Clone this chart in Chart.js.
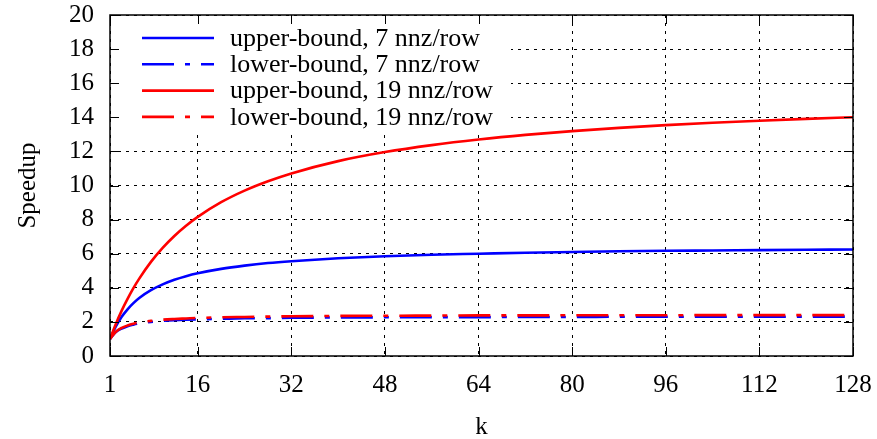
<!DOCTYPE html>
<html>
<head>
<meta charset="utf-8">
<script src="https://cdn.jsdelivr.net/npm/chart.js@4.4.1/dist/chart.umd.min.js"></script>
<style>
    html, body { margin: 0; padding: 0; background: #fff; }
    #wrap { width: 877px; height: 439px; }
</style>
</head>
<body>
<div id="wrap"><canvas id="speedupChart" width="877" height="439"></canvas></div>
<script>
// --- data ---
const kValues = [1, 2, 3, 4, 5, 6, 8, 10, 12, 14, 16, 20, 24, 28, 32, 40, 48, 56, 64, 72, 80, 88, 96, 104, 112, 120, 128];

const upper7 = [1.00, 1.73, 2.30, 2.74, 3.10, 3.40, 3.86, 4.20, 4.47, 4.68, 4.85, 5.11, 5.30, 5.45, 5.56, 5.73, 5.85, 5.94, 6.00, 6.06, 6.10, 6.14, 6.17, 6.19, 6.21, 6.23, 6.25];
const lower7 = [1.00, 1.40, 1.61, 1.75, 1.84, 1.91, 2.00, 2.06, 2.10, 2.13, 2.15, 2.18, 2.21, 2.22, 2.24, 2.26, 2.27, 2.28, 2.28, 2.29, 2.29, 2.30, 2.30, 2.30, 2.30, 2.31, 2.31];
const upper19 = [1.00, 1.88, 2.66, 3.35, 3.98, 4.54, 5.52, 6.34, 7.04, 7.64, 8.16, 9.02, 9.70, 10.25, 10.71, 11.43, 11.96, 12.37, 12.70, 12.97, 13.19, 13.38, 13.54, 13.68, 13.80, 13.91, 14.00];
const lower19 = [1.00, 1.42, 1.65, 1.79, 1.89, 1.96, 2.06, 2.13, 2.17, 2.20, 2.23, 2.27, 2.29, 2.31, 2.33, 2.35, 2.36, 2.37, 2.38, 2.38, 2.39, 2.39, 2.39, 2.40, 2.40, 2.40, 2.40];

const seriesLabels = ['upper-bound, 7 nnz/row', 'lower-bound, 7 nnz/row', 'upper-bound, 19 nnz/row', 'lower-bound, 19 nnz/row'];
const xTicks = [1, 16, 32, 48, 64, 80, 96, 112, 128];
const yTicks = [0, 2, 4, 6, 8, 10, 12, 14, 16, 18, 20];

const BLUE = '#0000ff';
const RED = '#ff0000';
const DASHDOT = [32, 11, 5, 11];
const FONT = '"Liberation Serif", "Times New Roman", serif';
const FONT_SIZE = 25;
const LINE_W = 2.6;

const toPoints = ys => kValues.map((k, i) => ({ x: k, y: ys[i] }));

const seriesStyle = [
    { data: upper7, color: BLUE, dash: [], order: 2 },
    { data: lower7, color: BLUE, dash: DASHDOT, order: 2 },
    { data: upper19, color: RED, dash: [], order: 1 },
    { data: lower19, color: RED, dash: DASHDOT, order: 1 }
];

// legend box drawn inside the plot, with a white backing that hides the grid
const insideLegend = {
    id: 'insideLegend',
    afterDatasetsDraw(chart) {
        const { ctx, chartArea } = chart;
        ctx.save();
        ctx.fillStyle = '#fff';
        ctx.fillRect(chartArea.left + 1, chartArea.top + 1, 510 - chartArea.left, 130 - chartArea.top);
        ctx.font = '26px ' + FONT;
        ctx.textBaseline = 'middle';
        seriesStyle.forEach((s, i) => {
            const y = 38 + i * 26.3;
            ctx.strokeStyle = s.color;
            ctx.lineWidth = LINE_W;
            ctx.setLineDash(s.dash);
            ctx.beginPath();
            ctx.moveTo(142, y);
            ctx.lineTo(214, y);
            ctx.stroke();
            ctx.setLineDash([]);
            ctx.fillStyle = '#000';
            ctx.fillText(seriesLabels[i], 230, y + 1);
        });
        ctx.restore();
    },
    afterDraw(chart) {
        // frame + inward ticks on all four sides
        const { ctx, chartArea: a, scales } = chart;
        ctx.save();
        ctx.strokeStyle = '#000';
        ctx.lineWidth = 1.5;
        ctx.setLineDash([]);
        ctx.strokeRect(a.left, a.top, a.right - a.left, a.bottom - a.top);
        ctx.lineWidth = 1;
        ctx.beginPath();
        xTicks.forEach(v => {
            const px = Math.round(scales.x.getPixelForValue(v)) + 0.5;
            ctx.moveTo(px, a.bottom); ctx.lineTo(px, a.bottom - 9);
            ctx.moveTo(px, a.top); ctx.lineTo(px, a.top + 9);
        });
        yTicks.forEach(v => {
            const py = Math.round(scales.y.getPixelForValue(v)) + 0.5;
            ctx.moveTo(a.left, py); ctx.lineTo(a.left + 9, py);
            ctx.moveTo(a.right, py); ctx.lineTo(a.right - 9, py);
        });
        ctx.stroke();
        ctx.restore();
    }
};

const ctx = document.getElementById('speedupChart').getContext('2d');
new Chart(ctx, {
    type: 'line',
    data: {
        datasets: seriesStyle.map((s, i) => ({
            label: seriesLabels[i],
            data: toPoints(s.data),
            borderColor: s.color,
            borderWidth: LINE_W,
            borderDash: s.dash,
            pointRadius: 0,
            fill: false,
            cubicInterpolationMode: 'monotone',
            order: s.order
        }))
    },
    options: {
        responsive: false,
        animation: false,
        layout: { padding: { top: 15, right: 24, left: 0, bottom: 0 } },
        plugins: { legend: { display: false }, tooltip: { enabled: false } },
        scales: {
            x: {
                type: 'linear',
                min: 1,
                max: 128,
                afterBuildTicks: scale => { scale.ticks = xTicks.map(v => ({ value: v })); },
                afterFit: scale => {
                    scale.height = 83;
                    scale.paddingLeft = 0;
                    scale.paddingRight = 0;
                },
                border: { display: false, dash: [3, 5] },
                grid: { color: '#000', lineWidth: 1, drawTicks: false },
                ticks: { color: '#000', font: { family: FONT, size: FONT_SIZE }, padding: 14, maxRotation: 0, autoSkip: false },
                title: { display: true, text: 'k', color: '#000', font: { family: FONT, size: FONT_SIZE }, padding: { top: 0, bottom: -3 } }
            },
            y: {
                min: 0,
                max: 20,
                afterBuildTicks: scale => { scale.ticks = yTicks.map(v => ({ value: v })); },
                afterFit: scale => {
                    scale.width = 110;
                    scale.paddingTop = 0;
                    scale.paddingBottom = 0;
                },
                border: { display: false, dash: [3, 5] },
                grid: { color: '#000', lineWidth: 1, drawTicks: false },
                ticks: { color: '#000', font: { family: FONT, size: FONT_SIZE }, padding: 16, autoSkip: false },
                title: { display: true, text: 'Speedup', color: '#000', font: { family: FONT, size: FONT_SIZE }, padding: { top: 13, bottom: 0 } }
            }
        }
    },
    plugins: [insideLegend]
});
</script>
</body>
</html>
